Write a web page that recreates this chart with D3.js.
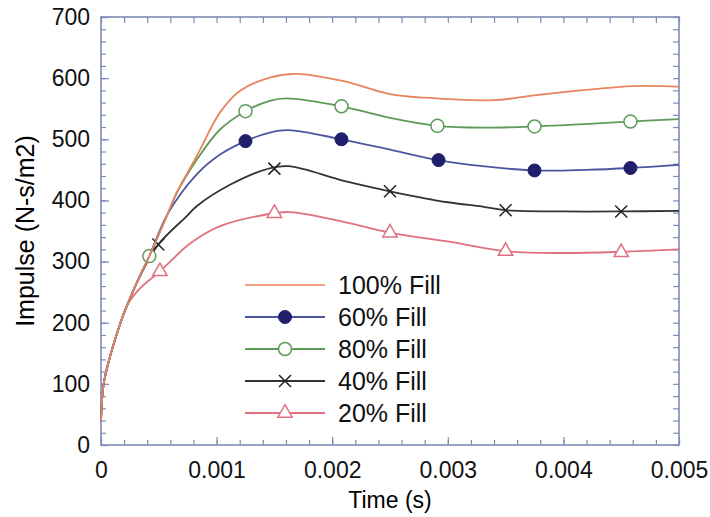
<!DOCTYPE html>
<html>
<head>
<meta charset="utf-8">
<script src="https://cdn.jsdelivr.net/npm/d3@7"></script>
<style>
  body { margin: 0; background: #fff; }
  svg { display: block; font-family: "Liberation Sans", Arial, sans-serif; }
</style>
</head>
<body>
<svg width="710" height="517"></svg>
<script>
const svg = d3.select('svg')
const width = +svg.attr('width')
const height = +svg.attr('height')
const margin = { top: 17, right: 31, bottom: 72, left: 101 }

// time (s) and impulse (N-s/m2)
const fill100T = [0, 0.00002, 0.000063, 0.000165, 0.000225, 0.000337, 0.000418, 0.000577, 0.000655, 0.00083, 0.00103, 0.0012, 0.00146, 0.00169, 0.0021, 0.0025, 0.0028, 0.0034, 0.0038, 0.0046, 0.005]
const fill100V = [40, 96, 134, 198, 228, 277, 309, 378, 413, 473, 544, 579, 601, 607, 595, 574, 568, 564, 573, 587, 586]

const fill80T = [0, 0.00002, 0.000063, 0.000165, 0.000225, 0.000337, 0.000418, 0.000577, 0.000655, 0.00083, 0.00103, 0.00125, 0.00146, 0.0016, 0.00208, 0.0025, 0.00291, 0.0033, 0.00375, 0.00458, 0.005]
const fill80V = [40, 96, 134, 198, 228, 277, 309, 378, 412, 467, 516, 546, 563, 567, 554, 535, 522, 519, 521, 529, 533]

const fill60T = [0, 0.00002, 0.000063, 0.000165, 0.000225, 0.000337, 0.000418, 0.000577, 0.00083, 0.00103, 0.00125, 0.00146, 0.00162, 0.00208, 0.0025, 0.00292, 0.0033, 0.00375, 0.0042, 0.00458, 0.005]
const fill60V = [40, 96, 134, 198, 228, 277, 309, 378, 443, 475, 497, 511, 515, 500, 483, 466, 456, 449, 450, 453, 458]

const fill40T = [0, 0.00002, 0.000063, 0.000165, 0.000225, 0.000337, 0.000496, 0.00074, 0.00083, 0.00112, 0.00143, 0.00162, 0.0021, 0.0025, 0.003, 0.0033, 0.0035, 0.004, 0.0045, 0.005]
const fill40V = [40, 96, 134, 198, 228, 276, 328, 374, 391, 426, 451, 456, 432, 415, 397, 390, 384, 382, 382, 383]

const fill20T = [0, 0.00002, 0.000063, 0.000165, 0.000225, 0.000337, 0.00051, 0.00074, 0.00086, 0.00103, 0.00143, 0.00163, 0.0021, 0.0025, 0.003, 0.0035, 0.004, 0.0045, 0.005]
const fill20V = [40, 96, 134, 198, 228, 256, 284, 325, 341, 358, 377, 381, 365, 347, 333, 317, 314, 316, 320]

// marker positions [time, impulse]
const marks80 = [[0.000418, 309], [0.00125, 546], [0.00208, 554], [0.00291, 522], [0.00375, 521], [0.00458, 529]]
const marks60 = [[0.00125, 497], [0.00208, 500], [0.00292, 466], [0.00375, 449], [0.00458, 453]]
const marks40 = [[0.000496, 328], [0.0015, 452], [0.0025, 415], [0.0035, 384], [0.0045, 382]]
const marks20 = [[0.00051, 284], [0.0015, 379], [0.0025, 347], [0.0035, 317], [0.0045, 315]]

const xTicks = [0, 0.001, 0.002, 0.003, 0.004, 0.005]
const yTicks = [0, 100, 200, 300, 400, 500, 600, 700]

const series = [
	{ name: '100% Fill', t: fill100T, v: fill100V, marks: [], color: '#e8845f', marker: 'none' },
	{ name: '60% Fill', t: fill60T, v: fill60V, marks: marks60, color: '#4b56a0', marker: 'dot' },
	{ name: '80% Fill', t: fill80T, v: fill80V, marks: marks80, color: '#5e9a58', marker: 'circle' },
	{ name: '40% Fill', t: fill40T, v: fill40V, marks: marks40, color: '#333333', marker: 'cross' },
	{ name: '20% Fill', t: fill20T, v: fill20V, marks: marks20, color: '#e0717f', marker: 'triangle' },
]

const axisColor = '#7d8bb8'

const x = d3.scaleLinear().domain([0, 0.005]).range([margin.left, width - margin.right])
const y = d3.scaleLinear().domain([0, 700]).range([height - margin.bottom, margin.top])

const fmtX = d => d === 0 ? '0' : d3.format('.3f')(d)

/*

AXES

*/

const minorX = d3.range(0, 0.005001, 0.0002)
const minorY = d3.range(0, 700.1, 20)

const styleAxis = g => {
	g.select('.domain').remove()
	g.selectAll('line').attr('stroke', axisColor).attr('stroke-width', 1.2)
	g.selectAll('text').attr('fill', '#111')
}

svg.append('g')
	.attr('transform', `translate(0,${y(0)})`)
	.call(d3.axisBottom(x).tickValues(minorX).tickSize(-5).tickFormat(''))
	.call(styleAxis)

svg.append('g')
	.attr('transform', `translate(0,${y(0)})`)
	.call(d3.axisBottom(x).tickValues(xTicks).tickSize(-8).tickPadding(17).tickFormat(fmtX))
	.call(styleAxis)
	.selectAll('text').style('font-size', '23px')

svg.append('g')
	.attr('transform', `translate(0,${y(700)})`)
	.call(d3.axisTop(x).tickValues(minorX).tickSize(-6).tickFormat(''))
	.call(styleAxis)

svg.append('g')
	.attr('transform', `translate(${x(0)},0)`)
	.call(d3.axisLeft(y).tickValues(minorY).tickSize(-5).tickFormat(''))
	.call(styleAxis)

svg.append('g')
	.attr('transform', `translate(${x(0)},0)`)
	.call(d3.axisLeft(y).tickValues(yTicks).tickSize(-8).tickPadding(11))
	.call(styleAxis)
	.selectAll('text').style('font-size', '23px')

svg.append('g')
	.attr('transform', `translate(${x(0.005)},0)`)
	.call(d3.axisRight(y).tickValues(minorY).tickSize(-6).tickFormat(''))
	.call(styleAxis)

svg.append('rect')
	.attr('x', x(0))
	.attr('y', y(700))
	.attr('width', x(0.005) - x(0))
	.attr('height', y(0) - y(700))
	.attr('fill', 'none')
	.attr('stroke', axisColor)
	.attr('stroke-width', 1.6)

svg.append('text')
	.attr('x', (x(0) + x(0.005)) / 2)
	.attr('y', 508)
	.attr('text-anchor', 'middle')
	.style('font-size', '23px')
	.text('Time (s)')

svg.append('text')
	.attr('transform', `translate(34,${(y(0) + y(700)) / 2}) rotate(-90)`)
	.attr('text-anchor', 'middle')
	.style('font-size', '25px')
	.text('Impulse (N-s/m2)')

/*

CURVES AND MARKERS

*/

const line = d3.line()
	.x(d => x(d[0]))
	.y(d => y(d[1]))
	.curve(d3.curveCatmullRom.alpha(0.5))

const drawMarker = (g, s, px, py) => {
	if (s.marker === 'dot') {
		g.append('circle').attr('cx', px).attr('cy', py).attr('r', 6.5)
			.attr('fill', '#1f1f6b').attr('stroke', '#1f1f6b')
	} else if (s.marker === 'circle') {
		g.append('circle').attr('cx', px).attr('cy', py).attr('r', 6.5)
			.attr('fill', '#fff').attr('stroke', s.color).attr('stroke-width', 1.5)
	} else if (s.marker === 'cross') {
		g.append('path')
			.attr('d', `M${px - 6},${py - 6}L${px + 6},${py + 6}M${px - 6},${py + 6}L${px + 6},${py - 6}`)
			.attr('stroke', '#222').attr('stroke-width', 1.5)
	} else if (s.marker === 'triangle') {
		g.append('path')
			.attr('d', d3.symbol(d3.symbolTriangle, 90)())
			.attr('transform', `translate(${px},${py})`)
			.attr('fill', '#fff').attr('stroke', s.color).attr('stroke-width', 1.5)
	}
}

const plot = svg.append('g')

series.slice().reverse().forEach(s => {
	const g = plot.append('g')
	g.append('path')
		.datum(d3.zip(s.t, s.v))
		.attr('d', line)
		.attr('fill', 'none')
		.attr('stroke', s.color)
		.attr('stroke-width', 1.8)
	s.marks.forEach(m => drawMarker(g, s, x(m[0]), y(m[1])))
})

/*

LEGEND

*/

const legendY = d3.scalePoint().domain(series.map(s => s.name)).range([285, 413])

series.forEach(s => {
	const g = svg.append('g')
	const ly = legendY(s.name)
	g.append('line')
		.attr('x1', 245).attr('x2', 325)
		.attr('y1', ly).attr('y2', ly)
		.attr('stroke', s.marker === 'none' ? '#f0a283' : s.color)
		.attr('stroke-width', 2)
	drawMarker(g, s, 285, ly)
	g.append('text')
		.attr('x', 338)
		.attr('y', ly + 9)
		.style('font-size', '25px')
		.attr('fill', '#111')
		.text(s.name)
})
</script>
</body>
</html>
